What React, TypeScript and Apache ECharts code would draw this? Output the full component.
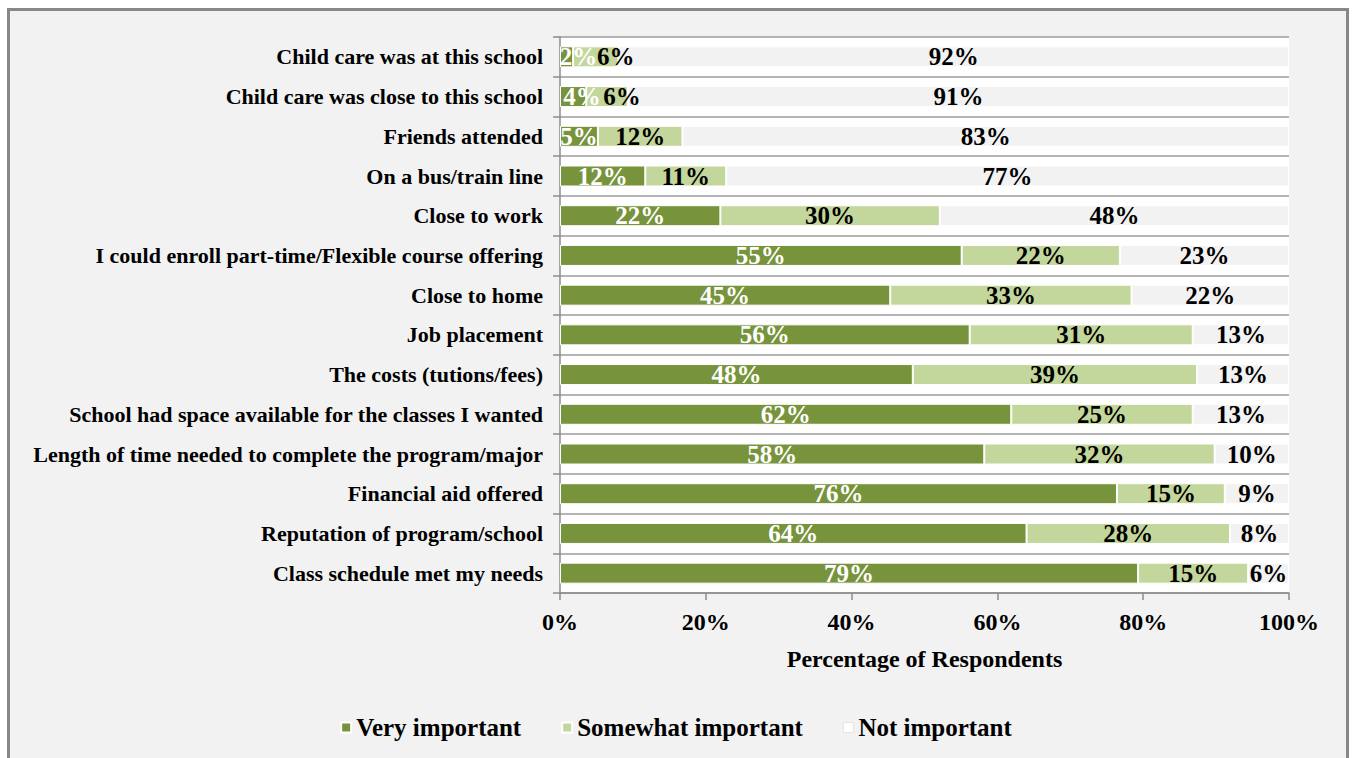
import React, { useEffect, useRef } from "react";
import * as echarts from "echarts";

const categories = [
  "Child care was at this school",
  "Child care was close to this school",
  "Friends attended",
  "On a bus/train line",
  "Close to work",
  "I could enroll part-time/Flexible course offering",
  "Close to home",
  "Job placement",
  "The costs (tutions/fees)",
  "School had space available for the classes I wanted",
  "Length of time needed to complete the program/major",
  "Financial aid offered",
  "Reputation of program/school",
  "Class schedule met my needs",
];

const veryImportant = [1.8, 3.6, 5.2, 11.7, 22.0, 55.1, 45.3, 56.2, 48.4, 61.9, 58.2, 76.4, 64.0, 79.3];
const somewhatImportant = [6.2, 5.7, 11.6, 11.1, 30.1, 21.7, 33.1, 30.6, 39.0, 24.9, 31.6, 14.8, 27.9, 15.1];
const notImportant = [92.0, 90.7, 83.2, 77.2, 47.9, 23.2, 21.6, 13.2, 12.6, 13.2, 10.2, 8.8, 8.1, 5.6];

const xTicks = [0, 20, 40, 60, 80, 100];

const FONT = "'Liberation Serif', 'Times New Roman', serif";

// label nudges for crowded small segments (row index -> x offset in px)
const veryNudge: Record<number, number> = { 0: 12, 1: 9 };
const somewhatNudge: Record<number, number> = { 0: 20, 1: 15 };

function withNudge(values: number[], nudge: Record<number, number>) {
  return values.map((v, i) =>
    nudge[i] !== undefined ? { value: v, label: { offset: [nudge[i], 0] } } : v
  );
}

export default function App() {
  const ref = useRef<HTMLDivElement>(null);

  useEffect(() => {
    document.body.style.overflow = "hidden";
    const chart = echarts.init(ref.current!, null, { renderer: "svg" });
    const labelBase = {
      show: true,
      position: "inside",
      fontFamily: FONT,
      fontWeight: "bold",
      fontSize: 25,
      formatter: (p: any) => Math.round(p.value) + "%",
    };
    chart.setOption({
      animation: false,
      backgroundColor: "transparent",
      textStyle: { fontFamily: FONT },
      grid: {
        left: 560,
        top: 37,
        width: 729,
        height: 556,
        show: true,
        backgroundColor: "#ffffff",
        borderWidth: 0,
      },
      legend: {
        top: 710,
        left: "center",
        itemWidth: 10,
        itemHeight: 10,
        itemGap: 40,
        itemTextGap: 5,
        icon: "rect",
        textStyle: { fontFamily: FONT, fontWeight: "bold", fontSize: 25, color: "#000" },
        data: [
          { name: "Very important" },
          { name: "Somewhat important" },
          { name: "Not important", itemStyle: { color: "#ffffff", borderColor: "#e4e4e4", borderWidth: 1 } },
        ],
      },
      xAxis: {
        type: "value",
        min: xTicks[0],
        max: xTicks[xTicks.length - 1],
        interval: 20,
        name: "Percentage of Respondents",
        nameLocation: "middle",
        nameGap: 54,
        nameTextStyle: { fontFamily: FONT, fontWeight: "bold", fontSize: 24, color: "#000" },
        axisLine: { show: true, lineStyle: { color: "#8c8c8c", width: 1.5 } },
        axisTick: { show: true, length: 7, lineStyle: { color: "#8c8c8c", width: 1.5 } },
        splitLine: { show: false },
        axisLabel: {
          margin: 17,
          fontFamily: FONT,
          fontWeight: "bold",
          fontSize: 24,
          color: "#000",
          formatter: (v: number) => v + "%",
        },
      },
      yAxis: {
        type: "category",
        inverse: true,
        data: categories,
        axisLine: { show: true, lineStyle: { color: "#8c8c8c", width: 1.5 } },
        axisTick: { show: true, length: 7, lineStyle: { color: "#8c8c8c", width: 1.5 } },
        splitLine: { show: true, lineStyle: { color: "#9c9c9c", width: 1.5 } },
        axisLabel: {
          margin: 17,
          fontFamily: FONT,
          fontWeight: "bold",
          fontSize: 22,
          color: "#000",
        },
      },
      series: [
        {
          name: "Very important",
          type: "bar",
          stack: "total",
          barWidth: 21,
          data: withNudge(veryImportant, veryNudge),
          itemStyle: { color: "#77933c", borderColor: "#ffffff", borderWidth: 1 },
          label: { ...labelBase, color: "#ffffff" },
        },
        {
          name: "Somewhat important",
          type: "bar",
          stack: "total",
          barWidth: 21,
          data: withNudge(somewhatImportant, somewhatNudge),
          itemStyle: { color: "#c3d69b", borderColor: "#ffffff", borderWidth: 1 },
          label: { ...labelBase, color: "#000000" },
        },
        {
          name: "Not important",
          type: "bar",
          stack: "total",
          barWidth: 21,
          data: notImportant,
          itemStyle: { color: "#f2f2f2", borderColor: "#ffffff", borderWidth: 1 },
          label: { ...labelBase, color: "#000000" },
        },
      ],
    });
    return () => chart.dispose();
  }, []);

  return (
    <>
      <div
        style={{
          position: "fixed",
          left: 7,
          top: 8,
          width: 1342,
          height: 770,
          boxSizing: "border-box",
          border: "3px solid #888888",
          background: "#f2f2f2",
        }}
      />
      <div
        ref={ref}
        style={{ position: "fixed", left: 0, top: 0, width: 1352, height: 758 }}
      />
    </>
  );
}
